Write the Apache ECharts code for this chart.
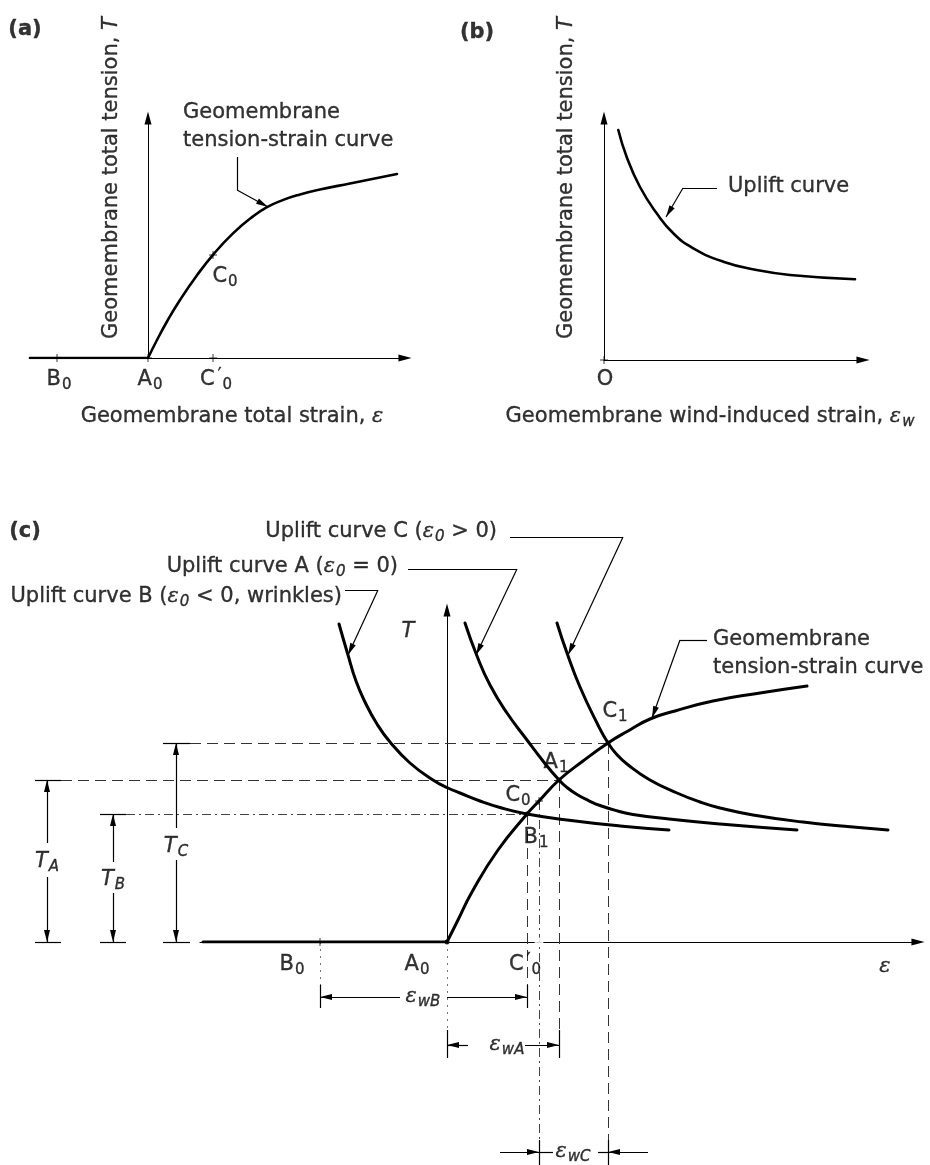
<!DOCTYPE html>
<html>
<head>
<meta charset="utf-8">
<script src="https://cdn.jsdelivr.net/npm/echarts@6.0.0/dist/echarts.min.js"></script>
<style>
html,body{margin:0;padding:0;background:#fff;}
#chart{width:930px;height:1165px;}
</style>
</head>
<body>
<div id="chart"></div>
<script>
// ================= DATA (strain, tension in drawing units) =================
// (a) geomembrane tension-strain curve
const aFlatStrain  = [-11.8, 0];
const aFlatTension = [0, 0];
const aStrain  = [0, 0.9, 1.9, 3.2, 4.9, 6.5, 8.5, 10.5, 11.9, 13.4, 15.2, 17.2, 20.2, 24.9];
const aTension = [0, 1.8, 3.65, 5.8, 8.27, 10.32, 12.46, 14.16, 15.08, 15.76, 16.35, 16.85, 17.45, 18.39];
const aTickLabels = ['B{s|0}', 'A{s|0}', 'C{p|′}{s|0}'];
const aTickStrain = [-9.1, 0, 6.5];
const aC0 = [6.5, 10.3];

// (b) uplift curve
const bStrain  = [1.43, 2.27, 3.6, 5.27, 6.93, 8.93, 11.93, 15.27, 18.6, 25.1];
const bTension = [23.0, 20.3, 17.3, 14.67, 12.67, 11.17, 9.83, 9.0, 8.5, 8.07];

// (c) combined diagram
const cFlatStrain  = [-24.4, 0];
const cFlatTension = [0, 0];
const cStrain  = [0, 1.1, 2.5, 5.1, 8.0, 9.2, 11.2, 13.6, 16.1, 18.1, 20.3, 22.8, 26.6, 31.3, 36.0];
const cTension = [0, 2.2, 5.0, 9.2, 12.8, 14.1, 16.2, 18.1, 19.9, 21.1, 22.3, 23.1, 24.1, 24.9, 25.6];
const upAStrain  = [1.8, 3.0, 4.3, 6.0, 8.0, 9.6, 11.2, 12.0, 13.0, 14.2, 15.3, 17.0, 18.6, 22.2, 27.3, 35.0];
const upATension = [31.9, 28.6, 25.7, 22.9, 20.2, 18.1, 16.2, 15.45, 14.75, 14.12, 13.65, 13.12, 12.76, 12.3, 11.8, 11.2];
const upBStrain  = [-10.8, -9.9, -9.1, -8.2, -7.0, -5.7, -3.7, -1.4, 0.1, 1.3, 3.3, 5.3, 8.0, 12.0, 17.3, 22.2];
const upBTension = [31.8, 28.7, 26.1, 24.0, 21.8, 20.0, 17.9, 16.2, 15.4, 14.9, 14.1, 13.45, 12.8, 12.2, 11.6, 11.2];
const upCStrain  = [11.0, 12.0, 13.3, 15.0, 16.1, 17.0, 18.0, 20.3, 23.0, 25.3, 27.3, 30.6, 35.6, 40.6, 44.1];
const upCTension = [31.9, 28.9, 25.5, 21.9, 19.9, 18.73, 17.8, 16.2, 14.9, 14.0, 13.4, 12.7, 12.0, 11.5, 11.2];
// key points (strain, tension)
const cB0 = [-12.7, 0], cA0 = [0, 0], cC0p = [9.2, 0], cC0 = [9.2, 14.1];
const cB1 = [8.0, 12.8], cA1 = [11.2, 16.2], cC1 = [16.1, 19.9];
const cTickLabels = ['B{s|0}', 'A{s|0}', 'C{p|′}{s|0}', '{e|ε}'];
const cTickLabelPos = [[-15.5, -2.3], [-3.0, -2.3], [7.8, -2.3], [43.8, -2.5]];

// ================= STYLE HELPERS =================
const FONT = 'DejaVu Sans';
const SIZE = 21;
const INK = '#000';
const HALO = { textBorderColor: INK, textBorderWidth: 0.35 };
const ARROW_AXIS = 'path://M0,0L4,15L-4,15Z';
const ARROW_TIP = 'path://M0,0L0,0M0,12L3,24L-3,24Z';
const PLUS = 'path://M-0.6,-5H0.6V-0.6H5V0.6H0.6V5H-0.6V0.6H-5V-0.6H-0.6Z';
const RICH = {
  i:  Object.assign({ color: INK, fontStyle: 'italic' }, HALO),
  e:  Object.assign({ color: INK, fontFamily: 'DejaVu Serif', fontStyle: 'italic' }, HALO),
  s:  Object.assign({ color: INK, fontSize: 15, padding: [11, 0, 0, 1] }, HALO),
  si: Object.assign({ color: INK, fontSize: 15, fontStyle: 'italic', padding: [11, 0, 0, 1] }, HALO),
  p:  Object.assign({ color: INK, fontSize: 17, padding: [0, 0, 9, 3] }, HALO)
};
const SMOOTH = 0.5;
const zip = (xs, ys) => xs.map((x, i) => [x, ys[i]]);

function curve(g, pts, width, smooth) {
  return { type: 'line', xAxisIndex: g, yAxisIndex: g, data: pts, smooth: smooth || false,
    symbol: 'none', showSymbol: false, silent: true, z: 5,
    lineStyle: { color: INK, width: width, cap: 'round', join: 'round' } };
}
function marks(g, lines, style, arrow) {
  return { type: 'line', xAxisIndex: g, yAxisIndex: g, data: [], silent: true, z: 4,
    markLine: { silent: true, animation: false,
      symbol: arrow ? ['none', ARROW_TIP] : ['none', 'none'],
      symbolSize: [6, 24],
      label: { show: false }, emphasis: { disabled: true },
      lineStyle: Object.assign({ color: INK, width: 1.2, type: 'solid' }, style),
      data: lines.map(l => [{ coord: l[0] }, { coord: l[1] }]) } };
}
function texts(g, items) {
  return { type: 'scatter', xAxisIndex: g, yAxisIndex: g, symbolSize: 0, silent: true, clip: false, z: 10,
    label: Object.assign({ show: true, position: 'inside', color: INK, fontFamily: FONT, fontSize: SIZE, rich: RICH }, HALO),
    data: items.map(it => ({ value: it[0],
      label: Object.assign({ formatter: it[1], color: INK }, it[2] || {}) })) };
}
function points(g, pts, symbol, size, style) {
  return { type: 'scatter', xAxisIndex: g, yAxisIndex: g, symbol: symbol, symbolSize: size, silent: true,
    clip: false, z: 8, itemStyle: style || { color: INK }, data: pts };
}
function mainX(g, min, max) {
  return { type: 'value', gridIndex: g, min: min, max: max,
    axisLine: { show: true, onZero: true, symbol: ['none', ARROW_AXIS], symbolSize: [7, 14],
      lineStyle: { color: INK, width: 1 } },
    axisTick: { show: false }, axisLabel: { show: false }, splitLine: { show: false } };
}
function hidden(g, min, max) {
  return { type: 'value', gridIndex: g, min: min, max: max, show: false, splitLine: { show: false } };
}

const BOLD = { fontWeight: 'bold' };
const LEFT = { align: 'left' };
const RIGHT = { align: 'right' };
const ROT = { rotate: 90 };
const TWO = { align: 'left', lineHeight: 28 };

const option = {
  animation: false,
  color: [INK],
  backgroundColor: '#fff',
  textStyle: { color: INK, fontFamily: FONT },
  grid: [
    { left: 30,  top: 118, width: 375, height: 240 },   // 0 (a) axes
    { left: 0,   top: 0,   width: 465, height: 440 },   // 1 (a) annotation layer
    { left: 604, top: 118, width: 259, height: 242 },   // 2 (b) axes
    { left: 465, top: 0,   width: 465, height: 440 },   // 3 (b) annotation layer
    { left: 200, top: 610, width: 718, height: 332 },   // 4 (c) axes
    { left: 0,   top: 480, width: 930, height: 685 }    // 5 (c) annotation layer
  ],
  xAxis: [
    mainX(0, -11.8, 25.7), hidden(1, -14.8, 31.7),
    mainX(2, 0, 25.9),     hidden(3, -13.9, 32.6),
    mainX(4, -24.7, 47.1), hidden(5, -44.7, 48.3)
  ],
  yAxis: [
    mainX(0, 0, 24),   hidden(1, -8.2, 35.8),
    mainX(2, 0, 24.2), hidden(3, -8.0, 36.0),
    mainX(4, 0, 33.2), hidden(5, -22.3, 46.2)
  ],
  series: [
    // ---------- (a) ----------
    curve(0, zip(aFlatStrain, aFlatTension), 2.6, false),
    curve(0, zip(aStrain, aTension), 2.6, SMOOTH),
    points(1, aTickStrain.map(x => [x, 0]).concat([aC0]), PLUS, 8),
    marks(1, [[[8.9, 20.1], [8.9, 16.8]]], {}, false),
    marks(1, [[[8.9, 16.8], [12.0, 15.1]]], {}, true),
    texts(1, [
      [[-12.3, 32.8], '(a)', BOLD],
      [[-3.6, 18.0], 'Geomembrane total tension, {i|T}', ROT],
      [[8.4, -5.9], 'Geomembrane total strain, {e|ε}'],
      [[3.5, 23.1], 'Geomembrane\ntension-strain curve', TWO],
      [[7.7, 8.1], 'C{s|0}']
    ].concat(aTickStrain.map((x, i) => [[x + (i === 2 ? 0.3 : 0.2), -2.2], aTickLabels[i]]))),

    // ---------- (b) ----------
    curve(2, zip(bStrain, bTension), 2.6, SMOOTH),
    points(3, [[0, 0]], PLUS, 8),
    marks(3, [[[11.3, 17.2], [7.9, 17.2]]], {}, false),
    marks(3, [[[7.9, 17.2], [6.2, 14.3]]], {}, true),
    texts(3, [
      [[-12.7, 32.7], '(b)', BOLD],
      [[-3.7, 18.2], 'Geomembrane total tension, {i|T}', ROT],
      [[10.6, -5.7], 'Geomembrane wind-induced strain, {e|ε}{si|w}'],
      [[12.4, 17.3], 'Uplift curve', LEFT],
      [[0.1, -2.0], 'O']
    ]),

    // ---------- (c) ----------
    curve(4, zip(cFlatStrain, cFlatTension), 3, false),
    curve(4, zip(cStrain, cTension), 3, SMOOTH),
    curve(4, zip(upAStrain, upATension), 3, SMOOTH),
    curve(4, zip(upBStrain, upBTension), 3, SMOOTH),
    curve(4, zip(upCStrain, upCTension), 3, SMOOTH),
    // dashed guides
    marks(5, [
      [[-25.7, cC1[1]], cC1],
      [[-38.6, cA1[1]], cA1],
      [cB1, [cB1[0], -6.6]],
      [cA1, [cA1[0], -11.6]],
      [cC1, [cC1[0], -22.3]]
    ], { width: 1, color: '#333', type: [11, 6] }, false),
    marks(5, [
      [[-32.1, cB1[1]], cB1],
      [cC0, [cC0[0], -22.3]]
    ], { width: 1, color: '#444', type: [9, 4, 2, 4] }, false),
    marks(5, [
      [cB0, [cB0[0], -4.3]],
      [cA0, [cA0[0], -8.8]]
    ], { width: 1, color: '#777', type: [2, 5] }, false),
    // dimension ticks and leader horizontals
    marks(5, [
      [[-41.2, cA1[1]], [-38.6, cA1[1]]], [[-41.2, 0], [-38.6, 0]],
      [[-34.7, cB1[1]], [-32.1, cB1[1]]], [[-34.7, 0], [-32.1, 0]],
      [[-28.4, cC1[1]], [-25.7, cC1[1]]], [[-28.4, 0], [-25.7, 0]],
      [[0, -8.8], [0, -11.6]], [[cA1[0], -8.8], [cA1[0], -11.6]],
      [[cB0[0], -4.3], [cB0[0], -6.6]], [[cB1[0], -4.3], [cB1[0], -6.6]],
      [[cC0p[0], -19.8], [cC0p[0], -22.3]], [[cC1[0], -19.8], [cC1[0], -22.3]],
      [[cC0p[0], -21.0], [10.6, -21.0]], [[15.1, -21.0], [cC1[0], -21.0]],
      [[6.3, 40.5], [17.6, 40.5]],
      [[-3.9, 37.3], [7.0, 37.3]],
      [[-10.2, 35.2], [-6.9, 35.2]],
      [[26.0, 30.2], [23.3, 30.2]]
    ], { width: 1.2 }, false),
    // arrows
    marks(5, [
      [[-40.0, 9.9], [-40.0, cA1[1]]], [[-40.0, 6.5], [-40.0, 0]],
      [[-33.4, 8.0], [-33.4, cB1[1]]], [[-33.4, 4.9], [-33.4, 0]],
      [[-27.1, 11.4], [-27.1, cC1[1]]], [[-27.1, 8.2], [-27.1, 0]],
      [[2.1, -10.3], [0, -10.3]], [[7.8, -10.3], [cA1[0], -10.3]],
      [[-4.7, -5.5], [cB0[0], -5.5]], [[0, -5.5], [cB1[0], -5.5]],
      [[5.3, -21.0], [cC0p[0], -21.0]], [[20.1, -21.0], [cC1[0], -21.0]],
      [[17.6, 40.5], [12.1, 28.7]],
      [[7.0, 37.3], [2.9, 28.7]],
      [[-6.9, 35.2], [-9.9, 28.7]],
      [[23.3, 30.2], [20.5, 22.4]]
    ], { width: 1.2 }, true),
    points(5, [cB0, cC0], PLUS, 8),
    points(5, [cA0, cB1, cA1, cC1], 'circle', 5),
    points(5, [cC0p], 'emptyCircle', 7, { color: '#fff', borderColor: INK, borderWidth: 1 }),
    texts(5, [
      [[-42.2, 41.0], '(c)', BOLD],
      [[5.0, 41.0], 'Uplift curve C ({e|ε}{si|0} > 0)', RIGHT],
      [[-4.9, 37.5], 'Uplift curve A ({e|ε}{si|0} = 0)', RIGHT],
      [[-10.5, 34.5], 'Uplift curve B ({e|ε}{si|0} < 0, wrinkles)', RIGHT],
      [[26.6, 28.8], 'Geomembrane\ntension-strain curve', TWO],
      [[-3.9, 31.0], '{i|T}'],
      [[16.8, 23.0], 'C{s|1}'],
      [[10.9, 17.9], 'A{s|1}'],
      [[7.1, 14.6], 'C{s|0}'],
      [[8.9, 10.4], 'B{s|1}'],
      [[-40.0, 8.0], '{i|T}{si|A}'],
      [[-33.4, 6.2], '{i|T}{si|B}'],
      [[-27.1, 9.5], '{i|T}{si|C}'],
      [[6.0, -10.3], '{e|ε}{si|wA}'],
      [[-2.4, -5.5], '{e|ε}{si|wB}'],
      [[12.6, -21.0], '{e|ε}{si|wC}']
    ].concat(cTickLabels.map((t, i) => [cTickLabelPos[i], t])))
  ]
};

const chart = echarts.init(document.getElementById('chart'), null, { renderer: 'canvas' });
chart.setOption(option);
</script>
</body>
</html>
